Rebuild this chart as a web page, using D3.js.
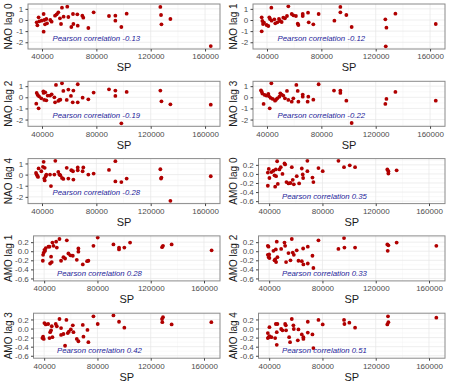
<!DOCTYPE html>
<html>
<head>
<meta charset="utf-8">
<script src="https://cdn.jsdelivr.net/npm/d3@7"></script>
<style>
  body { margin: 0; background: #fff; }
  svg { display: block; font-family: "Liberation Sans", Arial, sans-serif; }
</style>
</head>
<body>
<svg id="chart"></svg>
<script>
// points as [SP, index value]
let naoLag0 = [[37500,0.24],[36100,-0.21],[36600,-0.48],[38000,-0.12],[39700,-0.06],[41200,0.54],[41200,-1.05],[41700,0.0],[42200,-0.39],[43200,0.09],[43700,-0.30],[46100,0.0],[47100,-0.15],[49600,0.39],[50800,0.51],[52000,0.69],[53200,0.15],[54000,-0.36],[54700,1.11],[55900,0.30],[58600,1.20],[59400,0.27],[61600,-0.63],[62800,0.54],[63100,-0.36],[66000,0.51],[66300,-0.51],[69700,0.39],[70400,0.21],[74100,-0.72],[78000,0.69],[89300,0.36],[94000,0.39],[94000,-0.06],[98400,-0.63],[102300,0.57],[127100,1.17],[127600,0.45],[127900,-0.39],[134500,0.09],[164200,-2.34]]
let naoLag1 = [[36100,-1.02],[36100,0.24],[36600,-0.09],[37100,-0.36],[37800,-0.24],[39700,-0.45],[41000,-0.54],[41700,0.24],[42200,0.09],[43200,1.11],[43400,-0.06],[45400,0.06],[46100,-0.30],[47600,-0.21],[48800,0.09],[49600,-0.09],[50800,-0.18],[52000,0.21],[53200,0.15],[54700,0.36],[55700,1.23],[58200,0.54],[59400,0.42],[61300,0.36],[62600,-0.33],[63100,-0.45],[66300,0.54],[66300,0.36],[70200,0.66],[70700,-0.21],[74100,-0.39],[78000,0.54],[89600,-0.06],[94000,1.17],[94000,0.69],[98400,0.45],[102300,-0.63],[127100,0.06],[127900,-0.69],[127400,-2.37],[134500,0.57],[164200,-0.36]]
let naoLag2 = [[35800,-0.57],[36100,0.39],[36800,0.21],[37500,-0.99],[37800,0.09],[39500,-0.09],[41000,0.54],[41200,0.39],[41700,-0.24],[42400,0.45],[43200,-0.27],[44200,0.15],[45900,0.15],[47100,0.27],[49100,0.0],[49600,-0.45],[50300,1.11],[52000,-0.33],[52800,-0.24],[53500,-0.21],[54700,1.26],[55700,0.57],[58200,-0.24],[59400,0.69],[61300,0.12],[62600,-0.45],[63100,0.60],[66300,1.17],[66300,-0.45],[69900,-0.03],[74100,-0.18],[78000,0.42],[89300,0.72],[94000,0.60],[94000,0.12],[98400,-2.34],[102300,0.48],[127100,0.60],[127900,-0.36],[134500,-0.63],[164200,-0.66]]
let naoLag3 = [[35600,0.63],[36100,0.51],[36600,0.33],[37500,-0.60],[38300,0.21],[39500,0.15],[41000,0.30],[41500,0.09],[42000,-0.99],[42700,-0.06],[43200,1.26],[44200,-0.15],[45900,-0.30],[46600,-0.21],[47600,-0.09],[49100,0.06],[49800,0.36],[50800,0.24],[52000,0.15],[53200,-0.09],[54700,0.57],[55700,-0.24],[58200,-0.39],[59400,-0.09],[61600,1.11],[62600,0.57],[63100,-0.39],[66300,0.24],[66300,0.06],[69900,-0.39],[70400,0.06],[74100,-0.21],[78000,1.17],[89300,0.60],[94000,0.60],[94000,0.39],[98400,-0.30],[102300,-2.31],[127100,-0.60],[127900,-0.15],[134500,0.48],[164200,-0.30]]
let naoLag4 = [[35600,0.15],[36100,0.0],[36600,-0.12],[37100,-0.21],[37500,0.55],[39500,0.30],[40700,0.70],[41200,1.15],[42000,0.61],[42000,-0.52],[41700,-0.36],[42700,-0.15],[43200,0.0],[45900,0.0],[46600,-1.03],[49100,0.0],[49800,1.24],[52000,0.24],[52800,0.0],[53500,-0.06],[54700,-0.30],[55700,-0.39],[58200,0.61],[59400,-0.36],[61600,0.39],[62800,0.30],[63100,-0.45],[66300,0.64],[66300,0.39],[69900,0.30],[70400,0.64],[74100,0.0],[78000,0.09],[89300,0.42],[94000,1.21],[94000,-0.61],[98400,-0.67],[102300,-0.36],[127100,0.48],[127600,-0.36],[127900,-0.27],[134500,-2.36],[164200,-0.15]]

let amoLag0 = [[39000,-0.26],[39000,0.03],[39700,0.11],[40200,-0.09],[41700,0.04],[43200,0.07],[44000,-0.03],[44500,-0.28],[45000,0.10],[45200,-0.05],[46000,0.28],[46500,-0.22],[47700,0.10],[48700,0.15],[50000,0.0],[51500,0.23],[52000,0.21],[53000,-0.18],[54500,-0.21],[56000,-0.20],[57000,0.15],[57700,-0.13],[58500,-0.23],[60700,-0.05],[62500,-0.21],[64500,0.12],[65200,-0.01],[65500,-0.09],[68700,0.29],[68700,0.06],[72500,-0.08],[73200,-0.18],[77000,0.13],[80200,0.06],[92000,0.29],[96200,0.15],[100500,0.19],[104500,0.15],[128700,0.10],[129500,0.06],[129500,0.01],[135700,0.08]]
let amoLag1 = [[39000,-0.21],[39200,-0.08],[39700,-0.03],[40200,0.03],[40700,0.01],[41200,0.07],[43200,0.10],[44000,0.10],[44500,-0.27],[45200,-0.12],[45700,-0.24],[46200,0.19],[47000,0.12],[49000,0.21],[49500,0.08],[51500,0.27],[52700,-0.21],[54500,-0.13],[55700,-0.16],[57000,0.24],[58200,-0.05],[59700,-0.09],[61500,-0.10],[64500,-0.19],[65700,0.06],[65700,-0.01],[69000,-0.29],[72200,-0.22],[73200,-0.21],[77000,0.12],[80200,0.30],[92000,0.15],[96200,0.08],[96200,0.04],[100200,0.08],[104500,0.19],[128500,0.09],[129200,0.12],[135700,0.15],[165700,0.02]]
let amoLag2 = [[39000,0.12],[39500,0.10],[39000,-0.08],[39700,-0.13],[40200,-0.15],[40000,-0.07],[43200,0.01],[44000,-0.20],[44500,-0.18],[45000,0.04],[45200,-0.24],[45700,0.21],[46200,-0.13],[49000,0.05],[51500,0.19],[52000,0.12],[52700,-0.24],[54500,-0.04],[56000,-0.20],[57000,0.27],[57700,-0.03],[58500,-0.08],[60700,0.02],[62000,-0.21],[64500,-0.22],[65500,0.06],[65700,-0.29],[69000,0.10],[69000,-0.27],[72500,-0.10],[73200,-0.37],[77000,0.24],[92000,0.05],[96200,0.29],[96500,0.08],[104500,0.08],[128700,0.15],[129500,0.13],[129000,0.01],[135700,0.19],[165500,0.12]]
let amoLag3 = [[38700,-0.21],[39200,-0.18],[39700,-0.23],[40200,0.12],[41200,0.09],[43000,0.10],[44000,-0.21],[44500,-0.08],[45200,-0.04],[45700,0.05],[46200,-0.19],[48700,0.10],[49500,0.05],[51500,0.21],[52700,0.01],[52700,-0.14],[54500,-0.12],[55700,-0.38],[56700,0.19],[57700,-0.10],[58500,-0.07],[60000,-0.02],[61500,0.07],[62000,-0.08],[64500,-0.23],[65700,-0.28],[69000,0.08],[69500,-0.18],[72500,-0.03],[73200,-0.30],[77000,0.27],[80200,0.10],[92000,0.29],[96200,0.15],[100200,0.02],[128500,0.21],[129200,0.25],[128700,0.14],[135700,0.09],[165500,0.14]]
let amoLag4 = [[39000,-0.10],[39000,-0.21],[39700,-0.19],[40200,-0.17],[40200,0.03],[41700,-0.19],[44500,-0.21],[45000,0.10],[45700,-0.08],[45700,-0.36],[46200,0.10],[49000,-0.01],[50000,-0.04],[52000,0.10],[52500,0.07],[52700,-0.04],[55000,-0.19],[55700,-0.30],[57000,0.21],[58200,0.07],[58500,-0.01],[61500,-0.26],[62000,-0.02],[64500,-0.13],[65700,-0.19],[65700,-0.23],[69000,0.15],[69000,-0.09],[72500,-0.13],[73200,-0.43],[77000,0.19],[80200,0.09],[96200,0.19],[96500,0.10],[100200,0.13],[104500,0.02],[128700,0.09],[129500,0.14],[129200,0.27],[165500,0.24]]

let xTicks = [40000, 80000, 120000, 160000]
let xMinor = [60000, 100000, 140000]
let naoTicks = [-2, -1, 0, 1]
let naoMinor = [-2.5, -1.5, -0.5, 0.5]
let amoTicks = [-0.6, -0.4, -0.2, 0, 0.2]
let amoMinor = [-0.5, -0.3, -0.1, 0.1, 0.3]

let panelLabels = ["NAO lag 0", "NAO lag 1", "NAO lag 2", "NAO lag 3", "NAO lag 4",
                   "AMO lag 0", "AMO lag 1", "AMO lag 2", "AMO lag 3", "AMO lag 4"]
let correlations = ["-0.13", "-0.12", "-0.19", "-0.22", "-0.28", "0.35", "0.28", "0.33", "0.42", "0.51"]
let panelData = [naoLag0, naoLag1, naoLag2, naoLag3, naoLag4, amoLag0, amoLag1, amoLag2, amoLag3, amoLag4]

let W = 450, H = 386
let cellW = 225, cellH = 77.3
let panelTop = 4, panelH = 45, panelRight = 220

let kinds = {
    nao: { left: 28, xDomain: [29700, 171000], yDomain: [-2.606, 1.437],
           ticks: naoTicks, minor: naoMinor, fmt: d => String(d), note: [80000, -1.6] },
    amo: { left: 33.5, xDomain: [32000, 172000], yDomain: [-0.654, 0.338],
           ticks: amoTicks, minor: amoMinor, fmt: d => d.toFixed(1), note: [81500, -0.49] }
}

let svg = d3.select("#chart")
    .attr("width", W)
    .attr("height", H)

svg.append("rect")
    .attr("width", W)
    .attr("height", H)
    .attr("fill", "#fff")

function drawPanel(i) {
    let label = panelLabels[i]
    let k = label.startsWith("NAO") ? kinds.nao : kinds.amo
    let col = i % 2, row = Math.floor(i / 2)

    let g = svg.append("g")
        .attr("transform", "translate(" + (col * cellW) + "," + (panelTop + row * cellH) + ")")

    let x = d3.scaleLinear().domain(k.xDomain).range([k.left, panelRight])
    let y = d3.scaleLinear().domain(k.yDomain).range([panelH, 0])

    // minor then major grid
    g.selectAll(".xminor").data(xMinor).enter().append("line")
        .attr("x1", d => x(d)).attr("x2", d => x(d))
        .attr("y1", 0).attr("y2", panelH)
        .attr("stroke", "#f3f3f3").attr("stroke-width", 0.5)
    g.selectAll(".yminor").data(k.minor).enter().append("line")
        .attr("x1", k.left).attr("x2", panelRight)
        .attr("y1", d => y(d)).attr("y2", d => y(d))
        .attr("stroke", "#f3f3f3").attr("stroke-width", 0.5)
    g.selectAll(".xmajor").data(xTicks).enter().append("line")
        .attr("x1", d => x(d)).attr("x2", d => x(d))
        .attr("y1", 0).attr("y2", panelH)
        .attr("stroke", "#e6e6e6").attr("stroke-width", 0.7)
    g.selectAll(".ymajor").data(k.ticks).enter().append("line")
        .attr("x1", k.left).attr("x2", panelRight)
        .attr("y1", d => y(d)).attr("y2", d => y(d))
        .attr("stroke", "#e6e6e6").attr("stroke-width", 0.7)

    g.selectAll("circle").data(panelData[i]).enter().append("circle")
        .attr("cx", d => x(d[0]))
        .attr("cy", d => y(d[1]))
        .attr("r", 1.9)
        .attr("fill", "#b00000")

    g.append("rect")
        .attr("x", k.left)
        .attr("y", 0)
        .attr("width", panelRight - k.left)
        .attr("height", panelH)
        .attr("fill", "none")
        .attr("stroke", "#8a8a8a")
        .attr("stroke-width", 1)

    let xAxis = g.append("g")
        .attr("transform", "translate(0," + panelH + ")")
        .call(d3.axisBottom(x).tickValues(xTicks).tickFormat(d => String(d)).tickSize(2.5).tickPadding(2.2))
    let yAxis = g.append("g")
        .attr("transform", "translate(" + k.left + ",0)")
        .call(d3.axisLeft(y).tickValues(k.ticks).tickFormat(k.fmt).tickSize(2.5).tickPadding(2.2))

    for (let ax of [xAxis, yAxis]) {
        ax.select(".domain").remove()
        ax.attr("font-family", null).attr("font-size", null)
        ax.selectAll(".tick line").attr("stroke", "#444")
        ax.selectAll(".tick text")
            .attr("fill", "#4d4d4d")
            .style("font-size", "8px")
    }

    g.append("text")
        .attr("x", (k.left + panelRight) / 2)
        .attr("y", panelH + 22.4)
        .attr("text-anchor", "middle")
        .style("font-size", "11px")
        .attr("fill", "#1a1a1a")
        .text("SP")

    g.append("text")
        .attr("transform", "translate(12.3," + (panelH / 2) + ") rotate(-90)")
        .attr("text-anchor", "middle")
        .style("font-size", "10px")
        .attr("fill", "#1a1a1a")
        .text(label)

    g.append("text")
        .attr("x", x(k.note[0]))
        .attr("y", y(k.note[1]))
        .attr("dy", "0.35em")
        .attr("text-anchor", "middle")
        .style("font-size", "7.8px")
        .style("font-style", "italic")
        .attr("fill", "#25259a")
        .text("Pearson correlation " + correlations[i])
}

for (let i = 0; i < panelLabels.length; i++) drawPanel(i)
</script>
</body>
</html>
